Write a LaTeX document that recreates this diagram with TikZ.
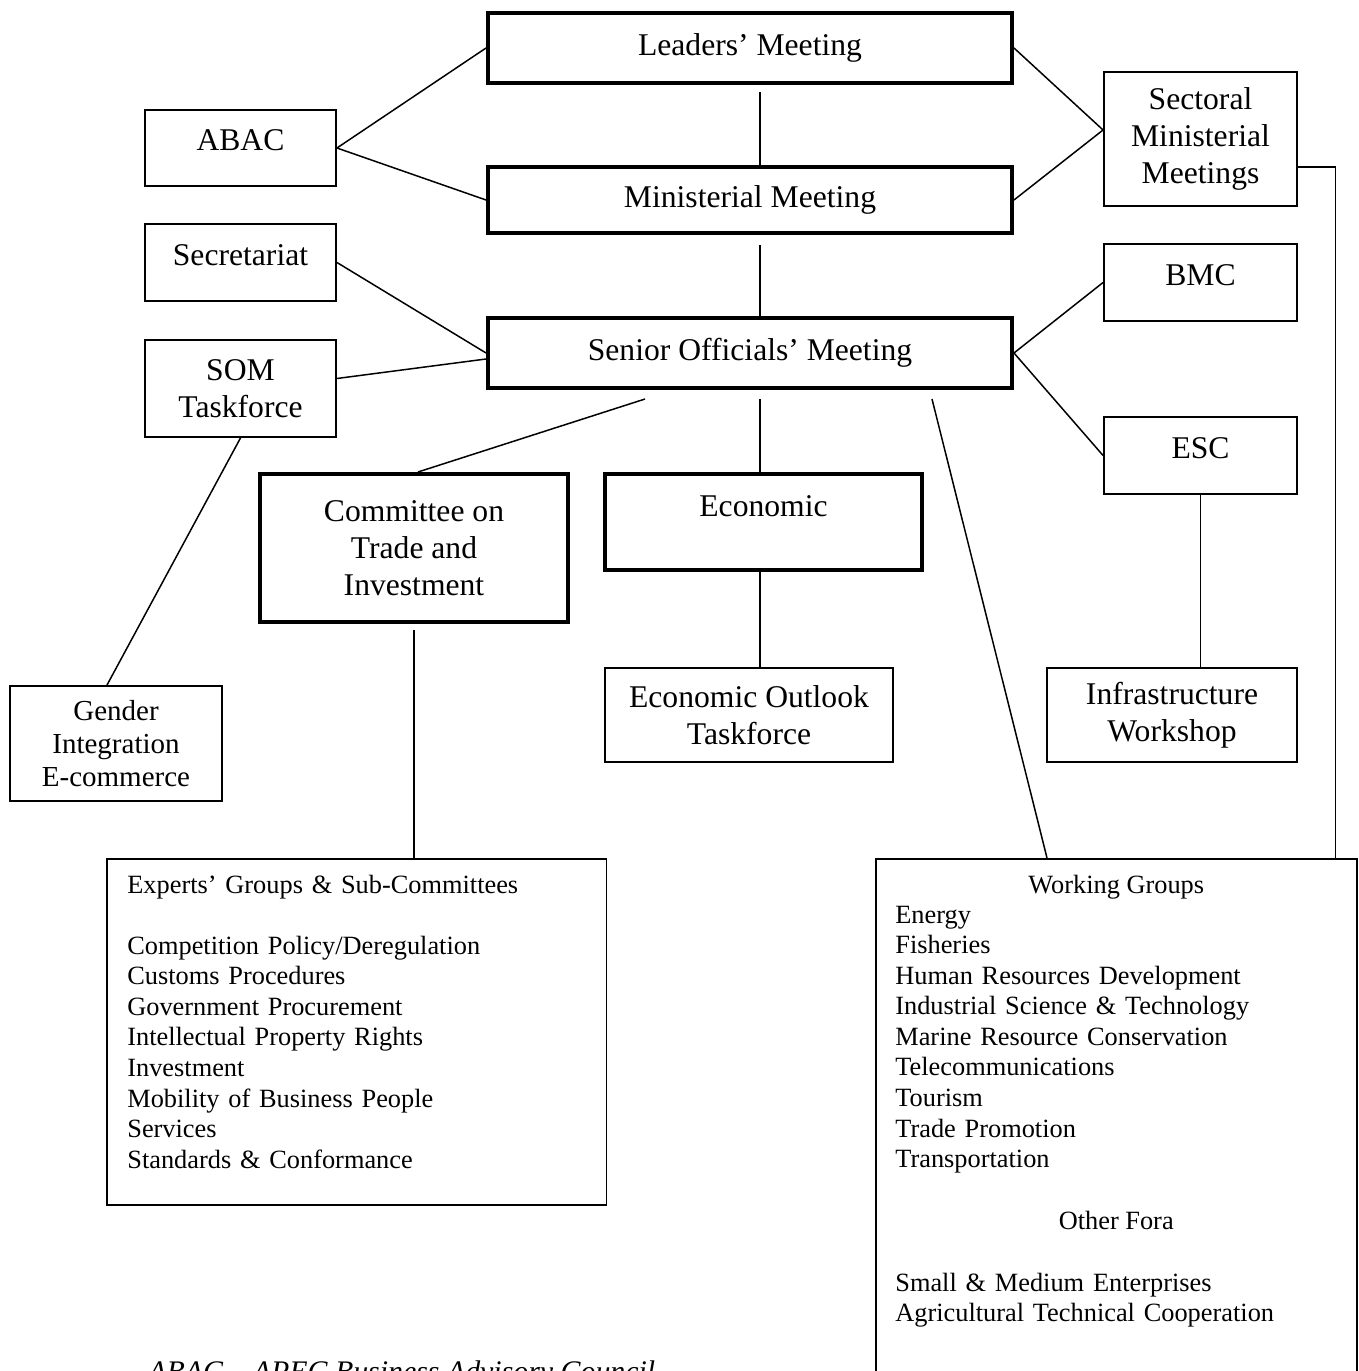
\documentclass[tikz,border=0pt]{standalone}
\usepackage{fontspec}
\setmainfont{Liberation Serif}
\usetikzlibrary{positioning,calc}

\tikzset{
    headbox/.style={draw, line width=2.3pt, align=center, inner sep=0pt, font=\fontsize{18}{21}\selectfont},
    orgbox/.style={draw, line width=1.1pt, align=center, inner sep=0pt, font=\fontsize{18}{21}\selectfont},
    smallorg/.style={orgbox, font=\fontsize{16.5}{18.8}\selectfont},
    raised/.style={text depth=0.3cm},
    listbox/.style={draw, line width=0.9pt, inner sep=0pt, anchor=north west},
    listtext/.style={align=left, inner sep=0pt, text width=9cm, anchor=base west, font=\fontsize{15}{17.4}\selectfont},
    link/.style={line width=0.85pt},
}

\begin{document}
\begin{tikzpicture}[x=0.02cm, y=-0.02cm]
    \useasboundingbox (0,0) rectangle (1358,1371);
    \clip (0,0) rectangle (1358,1371);

    % Main chain
    \node[headbox, minimum width=10.48cm, minimum height=1.4cm] (leaders) at (750,48) {Leaders' Meeting};
    \node[headbox, minimum width=10.48cm, minimum height=1.32cm] (ministerial) at (750,200) {Ministerial Meeting};
    \node[headbox, minimum width=10.48cm, minimum height=1.4cm] (som) at (750,353) {Senior Officials' Meeting};
    \node[headbox, minimum width=6.16cm, minimum height=2.96cm] (cti) at (414,548) {Committee on\\Trade and\\Investment};
    \node[headbox, minimum width=6.34cm, minimum height=1.92cm, text depth=0.64cm] (econ) at (763.5,522) {Economic};

    % Left side
    \node[orgbox, raised, minimum width=3.82cm, minimum height=1.52cm] (abac) at (240.5,148) {ABAC};
    \node[orgbox, raised, minimum width=3.82cm, minimum height=1.54cm] (secretariat) at (240.5,262.5) {Secretariat};
    \node[orgbox, minimum width=3.82cm, minimum height=1.94cm] (somtf) at (240.5,388.5) {SOM\\Taskforce};
    \node[smallorg, minimum width=4.24cm, minimum height=2.3cm] (gender) at (116,743.5) {Gender\\Integration\\E-commerce};

    % Right side
    \node[orgbox, minimum width=3.86cm, minimum height=2.68cm] (sectoral) at (1200.5,139) {Sectoral\\Ministerial\\Meetings};
    \node[orgbox, raised, minimum width=3.86cm, minimum height=1.54cm] (bmc) at (1200.5,282.5) {BMC};
    \node[orgbox, raised, minimum width=3.86cm, minimum height=1.54cm] (esc) at (1200.5,455.5) {ESC};
    \node[orgbox, minimum width=5.76cm, minimum height=1.88cm] (eot) at (749,715) {Economic Outlook\\Taskforce};
    \node[orgbox, minimum width=5cm, minimum height=1.88cm] (infra) at (1172,715) {Infrastructure\\Workshop};

    % Experts' groups
    \node[listbox, minimum width=10cm, minimum height=6.92cm] (experts) at (106,858) {};
    \node[listtext] (expertslist) at ($(experts.north west)+(21,35)$) {Experts' Groups \& Sub-Committees\\[17.4pt]
        Competition Policy/Deregulation\\
        Customs Procedures\\
        Government Procurement\\
        Intellectual Property Rights\\
        Investment\\
        Mobility of Business People\\
        Services\\
        Standards \& Conformance};

    % Working groups
    \node[listbox, minimum width=9.62cm, minimum height=11.24cm] (wg) at (875,858) {};
    \node[listtext, text width={}, anchor=base] (wgtitle) at ($(wg.north)+(0,35)$) {Working Groups};
    \node[listtext] (wglist) at ($(wg.north west)+(20,65)$) {Energy\\
        Fisheries\\
        Human Resources Development\\
        Industrial Science \& Technology\\
        Marine Resource Conservation\\
        Telecommunications\\
        Tourism\\
        Trade Promotion\\
        Transportation};
    \node[listtext, text width={}, anchor=base] (foratitle) at ($(wg.north)+(0,371)$) {Other Fora};
    \node[listtext] (foralist) at ($(wg.north west)+(20,433)$) {Small \& Medium Enterprises\\
        Agricultural Technical Cooperation};

    % Connectors
    \draw[link, shorten <=0.14cm] ($(leaders.south)+(10,0)$) -- ($(ministerial.north)+(10,0)$);
    \draw[link, shorten <=0.2cm] ($(ministerial.south)+(10,0)$) -- ($(som.north)+(10,0)$);
    \draw[link] (abac.east) -- (leaders.west);
    \draw[link] (abac.east) -- (ministerial.west);
    \draw[link] (leaders.east) -- ($(sectoral.west)+(0,-9)$);
    \draw[link] (ministerial.east) -- ($(sectoral.west)+(0,-9)$);
    \draw[link] (secretariat.east) -- (som.west);
    \draw[link] ($(somtf.east)+(0,-10)$) -- ($(som.west)+(0,6)$);
    \draw[link] (somtf.south) -- ($(gender.north)+(-9,0)$);
    \draw[link] (som.east) -- (bmc.west);
    \draw[link] (som.east) -- (esc.west);
    \draw[link] ($(som.south)+(-105,9)$) -- ($(cti.north)+(4,0)$);
    \draw[link] ($(som.south)+(10,9)$) -- ($(econ.north)+(-3.5,0)$);
    \draw[link] ($(som.south)+(182,9)$) -- ($(wg.north west)+(172,0)$);
    \draw[link] ($(sectoral.east)+(0,28)$) -| ($(wg.north east)+(-22,0)$);
    \draw[link, shorten <=0.12cm] (cti.south) -- (cti.south |- experts.north);
    \draw[link] ($(econ.south)+(-3.5,0)$) -- ($(eot.north)+(11,0)$);
    \draw[link] (esc.south) -- (esc.south |- infra.north);

    \node[font=\fontsize{17}{20}\selectfont\itshape, anchor=base west, inner sep=0pt] (caption) at (148,1381) {ABAC -- APEC Business Advisory Council};
\end{tikzpicture}
\end{document}
